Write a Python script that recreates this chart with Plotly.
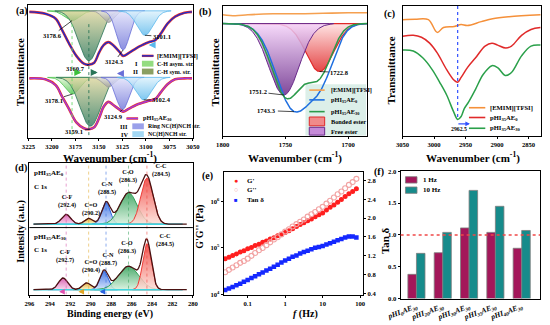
import numpy as np
import plotly.graph_objects as go

W, H = 550, 325
FONT = "Liberation Serif"


def px_x(p):
    return p / W


def px_y(p):
    return 1 - p / H


def dom_x(a, b):
    return [a / W, b / W]


def dom_y(top, bottom):
    return [1 - bottom / H, 1 - top / H]


def rgba(hexc, a):
    h = hexc.lstrip("#")
    return f"rgba({int(h[0:2], 16)},{int(h[2:4], 16)},{int(h[4:6], 16)},{a})"


# ---------------- (a) FTIR, C-H stretching of the imidazolium ring ----------------
a_top_centers = [3178.6, 3160.7, 3140.0, 3124.3, 3101.1]
a_top_depths = [10, 51, 12, 40, 25]
a_bot_centers = [3178.1, 3159.1, 3140.0, 3124.9, 3102.4]
a_bot_depths = [17, 50, 10, 33, 23]
a_sigmas = [8, 11, 6, 7, 8.5]
a_top_base = 130
a_bot_base = 62
a_env_wn = [3224, 3207, 3196, 3189, 3182, 3174, 3166, 3160.7, 3155, 3150, 3145, 3140, 3135,
            3128, 3124.3, 3118, 3110, 3104, 3097, 3090, 3084, 3077, 3069, 3059, 3051]
a_top_env = [129, 127, 122, 110, 97, 84, 76, 75, 77, 87, 95, 98, 95,
             88, 84, 87, 92, 95, 98, 100, 107, 117, 124, 128, 129]
a_bot_env = [61, 60, 54, 42, 30, 16, 10, 9, 11, 20, 32, 37, 34,
             29, 27, 30, 34, 36, 38, 40, 47, 55, 60, 61, 61]
a_colors = [("#dff7cf", "#4cc24c"), ("#dcd59a", "#2a7558"), ("#e6e6e6", "#9c9c9c"),
            ("#e0e0fa", "#6a70d8"), ("#dcf1fc", "#5ab8ec")]

# ---------------- (b) FTIR, C=O stretching ----------------
b_base = 115
b_orange_wn = [1800, 1790, 1780, 1760, 1740, 1720, 1700, 1685]
b_orange = [124, 123, 124, 125, 125, 125.5, 126, 126]
b_bonded = (1722.8, 49, 11)
b_free = (1751.2, 73, 12)
b_blue_centers = [1743.3, 1720.0]
b_blue_depths = [87, 42]
b_blue_sigmas = [14, 10]
b_green_centers = [1749.0, 1723.0]
b_green_depths = [75, 50]
b_green_sigmas = [12, 10]

# ---------------- (c) FTIR, aliphatic C-H stretching ----------------
c_orange_wn = [3050, 3030, 3009, 2995, 2985, 2968, 2957, 2947, 2925, 2907, 2881, 2831]
c_orange = [119, 119.5, 119, 106, 111, 112, 114, 113, 117, 120, 122, 124]
c_red_wn = [3050, 3033, 3020, 3007, 2995, 2980, 2968, 2962.5, 2957, 2947, 2934, 2919, 2908,
            2899, 2886, 2877, 2861, 2846, 2831]
c_red = [102, 103, 101, 95, 85, 68, 57, 55, 60, 70, 80, 92, 95, 93, 90, 92, 103, 109, 111]
c_green_wn = [3050, 3033, 3018, 3003, 2991, 2980, 2969, 2962.5, 2957, 2952, 2945, 2934, 2922,
              2908, 2899, 2887, 2877, 2861, 2846, 2831]
c_green = [88, 87, 80, 68, 55, 42, 25, 17, 20, 28, 35, 48, 63, 72, 70, 62, 65, 82, 92, 93]
c_mark = 2962.5

# ---------------- (d) XPS C 1s ----------------
d_names = ["C-F", "C=O", "C-N", "C-O", "C-C"]
d_top_centers = [292.4, 290.2, 288.5, 286.3, 284.5]
d_top_heights = [10, 6, 22, 32, 47]
d_top_sigmas = [0.45, 0.4, 0.42, 0.85, 0.6]
d_bot_centers = [292.7, 290.4, 288.7, 286.3, 284.5]
d_bot_heights = [12, 7, 19, 24, 47]
d_bot_sigmas = [0.45, 0.4, 0.4, 1.0, 0.42]
d_top_base = 72
d_bot_base = 5
d_colors = [("#f9d3ec", "#d34aa5"), ("#fbf0c0", "#e0a526"), ("#cfe0fb", "#2a64e0"),
            ("#d6f0dc", "#2e9e55"), ("#fde0d8", "#ef3b36")]

# ---------------- (e) frequency sweep ----------------
e_freq = [0.0251, 0.0316, 0.0398, 0.0501, 0.0631, 0.0794, 0.1, 0.126, 0.158, 0.2, 0.251, 0.316,
          0.398, 0.501, 0.631, 0.794, 1.0, 1.26, 1.58, 2.0, 2.51, 3.16, 3.98, 5.01, 6.31, 7.94,
          10.0, 12.6, 15.8, 20.0, 25.1, 31.6, 39.8, 50.1, 63.1, 79.4]
e_storage = [58900, 63100, 69200, 74100, 81300, 87100, 95500, 102300, 112200, 120200, 131800,
             141300, 154900, 166000, 182000, 195000, 213800, 234400, 257000, 288400, 316200,
             346700, 380200, 416900, 467700, 512900, 562300, 645700, 741300, 831800, 955000,
             1096000, 1259000, 1445000, 1622000, 1862000]
e_loss = [30200, 33900, 38000, 42700, 47900, 52500, 58900, 67600, 77600, 89100, 100000, 114800,
          131800, 151400, 169800, 195000, 223900, 251200, 288400, 323600, 363100, 407400,
          467700, 524800, 588800, 676100, 758600, 891300, 1023000, 1202000, 1413000, 1622000,
          1905000, 2239000, 2570000, 3020000]
e_tan = [0.48, 0.51, 0.54, 0.58, 0.61, 0.65, 0.69, 0.73, 0.77, 0.81, 0.85, 0.89, 0.93, 0.97,
         1.01, 1.06, 1.10, 1.14, 1.18, 1.21, 1.25, 1.28, 1.31, 1.34, 1.37, 1.39, 1.41, 1.44,
         1.47, 1.50, 1.53, 1.56, 1.59, 1.61, 1.61, 1.59]

# ---------------- (f) tan delta of the series ----------------
f_samples = ["pHI<sub>0</sub>AE<sub>30</sub>", "pHI<sub>20</sub>AE<sub>30</sub>",
             "pHI<sub>30</sub>AE<sub>30</sub>", "pHI<sub>35</sub>AE<sub>30</sub>",
             "pHI<sub>40</sub>AE<sub>30</sub>"]
f_1hz = [0.38, 0.72, 1.11, 1.04, 0.79]
f_10hz = [0.71, 1.04, 1.70, 1.45, 1.07]

fig = go.Figure()


def band(xs, base, center, amp, sigma, pale, deep, xa, ya, direction,
         alpha=0.8, lw=0.8, full=False):
    g = amp * np.exp(-(xs - center) ** 2 / (2 * sigma ** 2))
    keep = np.ones(xs.size, bool) if full else g > amp * 0.004
    x = xs[keep]
    y = base + direction * g[keep]
    poly_x = np.concatenate([x, x[::-1]])
    poly_y = np.concatenate([y, np.full(x.size, base)])
    if direction < 0:
        cs = [[0, rgba(deep, alpha)], [1, rgba(pale, alpha)]]
    else:
        cs = [[0, rgba(pale, alpha)], [1, rgba(deep, alpha)]]
    fig.add_trace(go.Scatter(x=poly_x, y=poly_y, mode="lines", fill="toself",
                             fillgradient=dict(type="vertical", colorscale=cs),
                             line=dict(color=deep, width=lw), xaxis=xa, yaxis=ya,
                             showlegend=False, hoverinfo="skip"))


def gauss_sum(xs, centers, amps, sigmas):
    out = np.zeros_like(xs)
    for c, a, s in zip(centers, amps, sigmas):
        out += a * np.exp(-(xs - c) ** 2 / (2 * s ** 2))
    return out


def line(x, y, xa, ya, color, width, shape="linear"):
    fig.add_trace(go.Scatter(x=x, y=y, mode="lines", xaxis=xa, yaxis=ya, showlegend=False,
                             hoverinfo="skip",
                             line=dict(color=color, width=width, shape=shape,
                                       smoothing=1.0 if shape == "spline" else None)))


def txt(x, y, s, size=7, xanchor="center", color="black", angle=0):
    fig.add_annotation(x=px_x(x), y=px_y(y), xref="paper", yref="paper", text=s,
                       showarrow=False, xanchor=xanchor, yanchor="middle", textangle=angle,
                       font=dict(family=FONT, size=size, color=color, weight="bold"))


def leader(x, y, xa, ya, s, ax, ay, size=6.5):
    fig.add_annotation(x=x, y=y, xref=xa, yref=ya, text=s, showarrow=True, arrowhead=0,
                       arrowwidth=0.7, arrowcolor="black", ax=ax, ay=ay, standoff=0,
                       font=dict(family=FONT, size=size, color="black", weight="bold"))


def arrow(x0, x1, y, color, width=2.0):
    fig.add_annotation(x=px_x(x1), y=px_y(y), xref="paper", yref="paper", text="",
                       showarrow=True, ax=x0 - x1, ay=0, arrowhead=2, arrowsize=0.7,
                       arrowwidth=width, arrowcolor=color)


def prect(x0, y0, x1, y1, fill, lw=0, lc=None, below=False):
    fig.add_shape(type="rect", xref="paper", yref="paper", x0=px_x(x0), x1=px_x(x1),
                  y0=px_y(y0), y1=px_y(y1), fillcolor=fill,
                  line=dict(width=lw, color=lc or fill), layer="below" if below else "above")


def pline(x0, y0, x1, y1, color, width=1.5, dash="solid"):
    fig.add_shape(type="line", xref="paper", yref="paper", x0=px_x(x0), x1=px_x(x1),
                  y0=px_y(y0), y1=px_y(y1), line=dict(color=color, width=width, dash=dash))


# ---- panel (a)
xs_a = np.linspace(3225, 3050, 500)
for c, d, s, (p, q) in zip(a_top_centers, a_top_depths, a_sigmas, a_colors):
    band(xs_a, a_top_base, c, d, s, p, q, "x", "y", -1, alpha=0.78)
for c, d, s, (p, q) in zip(a_bot_centers, a_bot_depths, a_sigmas, a_colors):
    band(xs_a, a_bot_base, c, d, s, p, q, "x", "y", -1, alpha=0.78)
for c, col in [(a_top_centers[0], "#6cd86c"), (a_top_centers[1], "#2a7558")]:
    fig.add_shape(type="line", xref="x", yref="y", x0=c, x1=c, y0=3, y1=a_top_base - 12,
                  line=dict(color=col, width=0.9, dash="dot"))
line(a_env_wn, a_top_env, "x", "y", "#e8302a", 2.6, "spline")
line(a_env_wn, a_top_env, "x", "y", "#1c2ccc", 1.4, "spline")
line(a_env_wn, a_bot_env, "x", "y", "#e8302a", 2.6, "spline")
line(a_env_wn, a_bot_env, "x", "y", "#a23ad8", 1.4, "spline")

leader(a_top_centers[0], a_top_base - a_top_depths[0], "x", "y", "3178.6", -20, 15)
leader(a_top_centers[1], a_top_env[7], "x", "y", "3160.7", -13, 4)
leader(a_top_centers[3], a_top_base - a_top_depths[3], "x", "y", "3124.3", -9, 12)
leader(a_top_centers[4], a_top_base - a_top_depths[4], "x", "y", "3101.1", 17, 1)
leader(a_bot_centers[0], a_bot_base - a_bot_depths[0], "x", "y", "3178.1", -19, 6)
leader(a_bot_centers[1], a_bot_env[7], "x", "y", "3159.1", -16, 2)
leader(a_bot_centers[3], a_bot_base - a_bot_depths[3], "x", "y", "3124.9", -9, 7)
leader(a_bot_centers[4], a_bot_base - a_bot_depths[4], "x", "y", "3102.4", 18, 0)

arrow(62, 70, 70, "#3cc03c")
arrow(80, 87, 70, "#2a7558")
arrow(115, 107, 71, "#6a70d8")
arrow(147, 140, 42, "#5ab8ec")

# legend of (a)
pline(133, 53, 145, 53, "#e8302a", 2.4)
pline(133, 53, 145, 53, "#1c2ccc", 1.4)
txt(147, 53, "[EMIM][TFSI]", 6.3, "left")
txt(131, 61, "I", 6.3, "right")
prect(133, 58, 145, 64, "#93dc80")
txt(147, 61, "C-H asym. str.", 6.0, "left")
txt(131, 69, "II", 6.3, "right")
prect(133, 66, 145, 72, "#8a9f62")
txt(147, 69, "C-H sym. str.", 6.0, "left")
pline(117, 117, 129, 117, "#e8302a", 2.4)
pline(117, 117, 129, 117, "#a23ad8", 1.4)
txt(132, 117, "pHI<sub>35</sub>AE<sub>30</sub>", 6.3, "left")
txt(121, 125, "III", 6.3, "right")
prect(123, 122, 135, 128, "#9aa0ea")
txt(137, 125, "Ring NC(H)NCH str.", 5.8, "left")
txt(121, 133, "IV", 6.3, "right")
prect(123, 130, 135, 136, "#a3d8f4")
txt(137, 133, "NC(H)NCH str.", 5.8, "left")

# ---- panel (b)
xs_b = np.linspace(1800, 1685, 400)
band(xs_b, b_base, *b_bonded, "#ffe0e0", "#e02828", "x2", "y2", -1, alpha=0.85, lw=1.2, full=True)
band(xs_b, b_base, *b_free, "#f6d4fa", "#6a2a8a", "x2", "y2", -1, alpha=0.85, lw=1.0)
prect(303, 82, 366, 134.5, "#dcefe9", below=True)
line(b_orange_wn, b_orange, "x2", "y2", "#f5a050", 1.6, "spline")
line(xs_b, b_base - gauss_sum(xs_b, b_blue_centers, b_blue_depths, b_blue_sigmas),
     "x2", "y2", "#1f6fe0", 1.5)
line(xs_b, b_base - gauss_sum(xs_b, b_green_centers, b_green_depths, b_green_sigmas),
     "x2", "y2", "#2a9a4a", 1.5)
leader(b_free[0], b_base - b_free[1], "x2", "y2", "1751.2", -26, -3)
leader(b_blue_centers[0], b_base - 90, "x2", "y2", "1743.3", -27, -1)
leader(b_bonded[0], b_base - b_bonded[1], "x2", "y2", "1722.8", 20, 1)

pline(307, 88, 323, 88, "#f5a050", 1.6)
txt(327, 88, "[EMIM][TFSI]", 6.3, "left")
pline(307, 98, 323, 98, "#1f6fe0", 1.6)
txt(327, 98, "pHI<sub>35</sub>AE<sub>0</sub>", 6.3, "left")
pline(307, 110, 323, 110, "#2a9a4a", 1.6)
txt(327, 110, "pHI<sub>35</sub>AE<sub>30</sub>", 6.3, "left")
prect(307, 115.5, 323, 124.5, "#f08a8a", 1, "#e02828")
txt(327, 120, "Bonded ester", 6.3, "left")
prect(307, 126, 323, 134, "#c58ad8", 1, "#6a2a8a")
txt(327, 130, "Free ester", 6.3, "left")

# ---- panel (c)
line(c_orange_wn, c_orange, "x3", "y3", "#f5903a", 1.5, "spline")
line(c_red_wn, c_red, "x3", "y3", "#e02a2a", 1.5, "spline")
line(c_green_wn, c_green, "x3", "y3", "#2aa04a", 1.5, "spline")
fig.add_shape(type="line", xref="x3", yref="y3", x0=c_mark, x1=c_mark, y0=133,
              y1=c_green[c_green_wn.index(c_mark)],
              line=dict(color="#3050ff", width=1.2, dash="dot"))
txt(463, 128, "2962.5", 5.8)
arrow(461, 474, 122.5, "#3050ff", 1.3)
pline(473, 106, 490, 106, "#f5903a", 1.6)
txt(493, 106, "[EMIM][TFSI]", 6.6, "left")
pline(473, 116, 490, 116, "#e02a2a", 1.6)
txt(493, 116, "pHI<sub>35</sub>AE<sub>0</sub>", 6.6, "left")
pline(473, 127, 490, 127, "#2aa04a", 1.6)
txt(493, 127, "pHI<sub>35</sub>AE<sub>30</sub>", 6.6, "left")

# ---- panel (d)
xs_d = np.linspace(295.6, 280.6, 500)
for c, col in zip(d_top_centers, d_colors):
    fig.add_shape(type="line", xref="x4", yref="y4", x0=c, x1=c, y0=0, y1=135,
                  line=dict(color=rgba(col[1], 0.6), width=0.9, dash="dot"))
fig.add_shape(type="line", xref="x4 domain", yref="y4", x0=0, x1=1, y0=68.5, y1=68.5,
              line=dict(color="black", width=1))
for base, cen, hts, sig in [(d_top_base, d_top_centers, d_top_heights, d_top_sigmas),
                            (d_bot_base, d_bot_centers, d_bot_heights, d_bot_sigmas)]:
    for c, h, s, (p, q) in zip(cen, hts, sig, d_colors):
        band(xs_d, base, c, h, s, p, q, "x4", "y4", 1, alpha=0.85, lw=1.0)
    line([295.6, 281.0], [base, base], "x4", "y4", "#3fd3e0", 1.6)
    line(xs_d, base + gauss_sum(xs_d, cen, hts, sig), "x4", "y4", "#4a1212", 1.3)

txt(19, 173, "pHI<sub>35</sub>AE<sub>0</sub>", 7, "left")
txt(19, 187, "C 1s", 7, "left")
txt(19, 238, "pHI<sub>35</sub>AE<sub>30</sub>", 7, "left")
txt(19, 251, "C 1s", 7, "left")
d_top_label_pos = [(55, 201), (80, 210), (97, 188), (119, 176), (153, 170)]
d_bot_label_pos = [(53, 258), (80, 268), (98, 261), (118, 248), (157, 241)]
for name, c, (x, y) in zip(d_names, d_top_centers, d_top_label_pos):
    txt(x, y, f"{name}<br>({c})", 6.2)
for name, c, (x, y) in zip(d_names, d_bot_centers, d_bot_label_pos):
    txt(x, y, f"{name}<br>({c})", 6.2)
arrow(53, 47, 294, "#e050b0", 1.6)
arrow(73, 67, 294, "#e0a526", 1.6)
arrow(95, 89, 294, "#2a64e0", 1.6)

# ---- panel (e)
fig.add_trace(go.Scatter(x=e_freq, y=e_storage, mode="markers", xaxis="x5", yaxis="y5",
                         marker=dict(symbol="circle", size=5, color="#ff1f1f"),
                         showlegend=False, hoverinfo="skip"))
fig.add_trace(go.Scatter(x=e_freq, y=e_loss, mode="markers", xaxis="x5", yaxis="y5",
                         marker=dict(symbol="circle-open", size=5, color="#f2a3a3",
                                     line=dict(width=1.1)),
                         showlegend=False, hoverinfo="skip"))
fig.add_trace(go.Scatter(x=e_freq, y=e_tan, mode="markers", xaxis="x5", yaxis="y7",
                         marker=dict(symbol="square", size=4.5, color="#1428ff"),
                         showlegend=False, hoverinfo="skip"))
txt(231, 181, "●", 7, color="#ff1f1f")
txt(240, 181, "G'", 7, "left")
txt(231, 190, "○", 7, color="#f2a3a3")
txt(240, 190, "G''", 7, "left")
txt(231, 200, "■", 6, color="#1428ff")
txt(240, 200, "Tan δ", 7, "left")

# ---- panel (f)
fig.add_trace(go.Bar(x=f_samples, y=f_1hz, xaxis="x6", yaxis="y6", marker=dict(
    color="#a3175a", line=dict(color="#7d7d7d", width=0.8)), showlegend=False, hoverinfo="skip"))
fig.add_trace(go.Bar(x=f_samples, y=f_10hz, xaxis="x6", yaxis="y6", marker=dict(
    color="#168b8b", line=dict(color="#7d7d7d", width=0.8)), showlegend=False, hoverinfo="skip"))
fig.add_shape(type="line", xref="x6 domain", yref="y6", x0=0, x1=1, y0=1.0, y1=1.0,
              line=dict(color="#f04848", width=1.5, dash="dot"))
prect(407, 176.5, 419, 183, "#a3175a", 0.8, "#7d7d7d")
txt(423, 180, "1 Hz", 7, "left")
prect(407, 187, 419, 193.5, "#168b8b", 0.8, "#7d7d7d")
txt(423, 190, "10 Hz", 7, "left")

# ---- panel letters and axis titles
for s, x, y in [("(a)", 8, 7), ("(b)", 199, 8), ("(c)", 390, 10), ("(d)", 7, 168),
                ("(e)", 201, 176), ("(f)", 380, 172)]:
    txt(x, y, s, 10)
txt(7, 70, "Transmittance", 11, angle=-90)
txt(209, 70, "Transmittance", 11, angle=-90)
txt(392, 68, "Transmittance", 11, angle=-90)
txt(7, 232, "Intensity (a.u.)", 10, angle=-90)
txt(193, 228, "G'G'' (Pa)", 10, angle=-90)
txt(385, 242, "Tan δ", 11, angle=-90)
txt(100, 157, "Wavenumber (cm<sup>-1</sup>)", 11)
txt(292, 157, "Wavenumber (cm<sup>-1</sup>)", 11)
txt(477, 157, "Wavenumber (cm<sup>-1</sup>)", 11)
txt(100, 317, "Binding energy (eV)", 10)
txt(303, 317, "<i>f</i> (Hz)", 10)

tickfont = dict(family=FONT, size=6.6, color="black", weight="bold")
base_ax = dict(showline=True, linecolor="black", linewidth=1, mirror=True, showgrid=False,
               zeroline=False, tickfont=tickfont, ticks="outside", ticklen=2, tickwidth=1,
               tickcolor="black")
blank_y = dict(base_ax, ticks="", showticklabels=False)

fig.update_layout(
    width=W, height=H, margin=dict(l=0, r=0, t=0, b=0),
    paper_bgcolor="white", plot_bgcolor="white", showlegend=False,
    font=dict(family=FONT, color="black"),
    barmode="group", bargap=0.35, bargroupgap=0.0,
    xaxis=dict(base_ax, domain=dom_x(15, 186), range=[3225, 3050], dtick=25, anchor="y"),
    yaxis=dict(blank_y, domain=dom_y(1, 137), range=[0, 136], anchor="x"),
    xaxis2=dict(base_ax, domain=dom_x(217, 367), range=[1800, 1685], dtick=50, anchor="y2"),
    yaxis2=dict(blank_y, domain=dom_y(2, 135), range=[0, 133], anchor="x2"),
    xaxis3=dict(base_ax, domain=dom_x(404, 548), range=[3050, 2830], tick0=2850, dtick=50,
                anchor="y3"),
    yaxis3=dict(blank_y, domain=dom_y(2, 135), range=[0, 133], anchor="x3"),
    xaxis4=dict(base_ax, domain=dom_x(16, 186), range=[296, 280], dtick=2, anchor="y4"),
    yaxis4=dict(blank_y, domain=dom_y(162, 297), range=[0, 135], anchor="x4"),
    xaxis5=dict(base_ax, domain=dom_x(218, 363), type="log", range=[-1.64, 2.08],
                tickvals=[0.1, 1, 10, 100], ticktext=["0.1", "1", "10", "100"], anchor="y5"),
    yaxis5=dict(base_ax, domain=dom_y(172, 297), type="log", range=[4, 6.62],
                tickvals=[1e4, 1e5, 1e6],
                ticktext=["10<sup>4</sup>", "10<sup>5</sup>", "10<sup>6</sup>"], anchor="x5"),
    yaxis7=dict(base_ax, mirror=False, overlaying="y5", side="right", anchor="x5",
                range=[0.38, 2.97], tick0=0.4, dtick=0.4, tickformat=".1f"),
    xaxis6=dict(base_ax, domain=dom_x(402, 547), range=[-0.6, 4.7], ticks="", anchor="y6",
                tickangle=-20, tickfont=dict(family=FONT, size=7.5, color="black",
                                             weight="bold", style="italic")),
    yaxis6=dict(base_ax, domain=dom_y(171, 301), range=[0, 2.0], dtick=0.5, tickformat=".1f",
                anchor="x6"),
)

fig.write_html("out.html")
